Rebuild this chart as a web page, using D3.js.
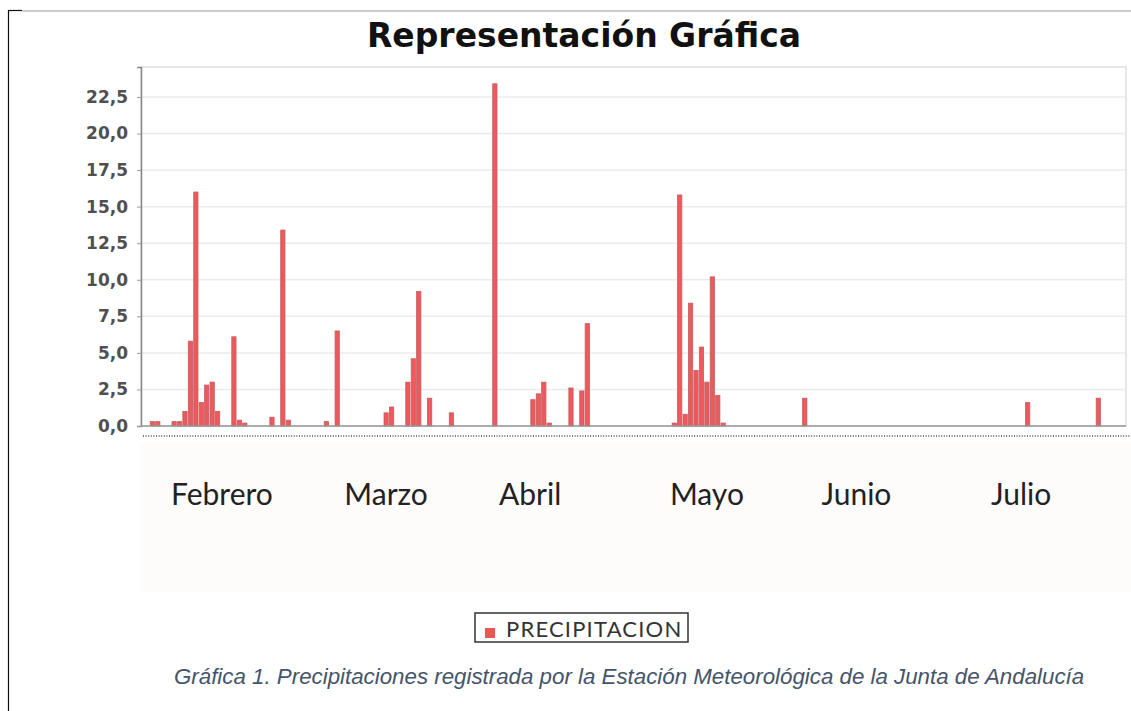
<!DOCTYPE html>
<html>
<head>
<meta charset="utf-8">
<script src="https://cdn.jsdelivr.net/npm/d3@7"></script>
<style>
  body { margin: 0; background: #fff; }
  svg { display: block; }
</style>
</head>
<body>
<svg width="1131" height="711"></svg>
<script>
// Data: daily rain (mm), only the days with a visible bar
const numDays = 178;
const rainDay = [0, 1, 4, 5, 6, 7, 8, 9, 10, 11, 12, 15, 16, 17, 22, 24, 25, 32, 34, 43, 44,
                 47, 48, 49, 51, 55, 63, 70, 71, 72, 73, 77, 79, 80,
                 96, 97, 98, 99, 100, 101, 102, 103, 104, 105, 120, 161, 174];
const rainMm = [0.3, 0.3, 0.3, 0.3, 1.0, 5.8, 16.0, 1.6, 2.8, 3.0, 1.0, 6.1, 0.4, 0.2, 0.6, 13.4, 0.4, 0.3, 6.5, 0.9, 1.3,
                3.0, 4.6, 9.2, 1.9, 0.9, 23.4, 1.8, 2.2, 3.0, 0.2, 2.6, 2.4, 7.0,
                0.2, 15.8, 0.8, 8.4, 3.8, 5.4, 3.0, 10.2, 2.1, 0.2, 1.9, 1.6, 1.9];
const yTicks = [0, 2.5, 5, 7.5, 10, 12.5, 15, 17.5, 20, 22.5];
const monthNames = ["Febrero", "Marzo", "Abril", "Mayo", "Junio", "Julio"];
const monthAnchorDay = [12.8, 43, 69.5, 102, 129.5, 159.8];
const seriesName = "PRECIPITACION";
const titleText = "Representación Gráfica";
const captionText = "Gráfica 1. Precipitaciones registrada por la Estación Meteorológica de la Junta de Andalucía";

// full daily series (days without rain are 0)
const series = d3.range(numDays).map(i => ({day: i, value: 0}));
rainDay.forEach((d, i) => { series[d].value = rainMm[i]; });

const svg = d3.select("svg");

// plot box
const plot = {left: 141, right: 1126, top: 67, bottom: 426};

const x = d3.scaleBand()
    .domain(d3.range(numDays))
    .range([plot.left, plot.right])
    .paddingInner(0.22)
    .paddingOuter(1.7);

const y = d3.scaleLinear()
    .domain([0, 24.55])
    .range([plot.bottom, plot.top]);

const dayCenter = d3.scaleLinear()
    .domain([0, numDays - 1])
    .range([x(0) + x.bandwidth() / 2, x(numDays - 1) + x.bandwidth() / 2]);

// outer frame of the document page
svg.append("line").attr("x1", 8.5).attr("x2", 8.5).attr("y1", 10).attr("y2", 711)
    .attr("stroke", "#111").attr("stroke-width", 1.2);
svg.append("line").attr("x1", 8).attr("x2", 22).attr("y1", 10.5).attr("y2", 10.5)
    .attr("stroke", "#111").attr("stroke-width", 1.2);
svg.append("line").attr("x1", 22).attr("x2", 1131).attr("y1", 11).attr("y2", 11)
    .attr("stroke", "#9a9a9a").attr("stroke-width", 1.2);

// very faint pink band behind month names
svg.append("rect")
    .attr("x", 140).attr("y", 442).attr("width", 991).attr("height", 150)
    .attr("fill", "#fefbfb");

// title
svg.append("text")
    .attr("x", 584).attr("y", 47)
    .attr("text-anchor", "middle")
    .style("font-family", "'DejaVu Sans', sans-serif")
    .style("font-weight", "bold")
    .style("font-size", "33px")
    .attr("fill", "#111")
    .text(titleText);

// plot background + grid
svg.append("rect")
    .attr("x", plot.left).attr("y", plot.top)
    .attr("width", plot.right - plot.left).attr("height", plot.bottom - plot.top)
    .attr("fill", "#fff")
    .attr("stroke", "#cfcfcf");

svg.append("g")
    .selectAll("line")
    .data(yTicks.filter(t => t > 0))
    .join("line")
    .attr("x1", plot.left).attr("x2", plot.right)
    .attr("y1", d => y(d)).attr("y2", d => y(d))
    .attr("stroke", "#ebebeb").attr("stroke-width", 1.5);

// y axis
const yAxis = svg.append("g")
    .attr("transform", `translate(${plot.left},0)`)
    .call(d3.axisLeft(y).tickValues(yTicks).tickSize(4).tickPadding(9)
        .tickFormat(d => d3.format(".1f")(d).replace(".", ",")));
yAxis.select(".domain").attr("stroke", "#888").attr("stroke-width", 1.5);
yAxis.selectAll(".tick line").attr("stroke", "#999");
yAxis.selectAll(".tick text")
    .style("font-family", "'DejaVu Sans', sans-serif")
    .style("font-weight", "bold")
    .style("font-size", "17px")
    .attr("fill", "#505050");

// bars
svg.append("g")
    .selectAll("rect")
    .data(series.filter(d => d.value > 0))
    .join("rect")
    .attr("x", d => x(d.day))
    .attr("width", x.bandwidth())
    .attr("y", d => y(d.value))
    .attr("height", d => y(0) - y(d.value))
    .attr("fill", "#ec5a5c")
    .attr("stroke", "#c65a62")
    .attr("stroke-width", 0.8);

// baseline
svg.append("line")
    .attr("x1", plot.left).attr("x2", plot.right)
    .attr("y1", plot.bottom).attr("y2", plot.bottom)
    .attr("stroke", "#999").attr("stroke-width", 1.5);

// crowded category labels render as a dotted strip
svg.append("line")
    .attr("x1", 143).attr("x2", 1131)
    .attr("y1", 436).attr("y2", 436)
    .attr("stroke", "#777").attr("stroke-width", 2)
    .attr("stroke-dasharray", "1,1.6");

// month names
svg.append("g")
    .selectAll("text")
    .data(monthNames)
    .join("text")
    .attr("x", (d, i) => dayCenter(monthAnchorDay[i]))
    .attr("y", 505)
    .attr("text-anchor", "middle")
    .style("font-family", "Lato, sans-serif")
    .style("font-size", "30px")
    .attr("fill", "#222")
    .text(d => d);

// legend
const legend = svg.append("g").attr("transform", "translate(475,613)");
legend.append("rect")
    .attr("width", 213).attr("height", 29)
    .attr("fill", "#fff").attr("stroke", "#333").attr("stroke-width", 1.5);
legend.append("rect")
    .attr("x", 10).attr("y", 15).attr("width", 10).attr("height", 10)
    .attr("fill", "#e8584f");
legend.append("text")
    .attr("x", 31).attr("y", 24)
    .style("font-family", "Lato, sans-serif")
    .style("font-size", "22px")
    .style("letter-spacing", "1.2px")
    .attr("fill", "#333")
    .text(seriesName);

// caption
svg.append("text")
    .attr("x", 174).attr("y", 684)
    .style("font-family", "'Liberation Sans', Arial, sans-serif")
    .style("font-style", "italic")
    .style("font-size", "22.3px")
    .attr("fill", "#44546a")
    .text(captionText);
</script>
</body>
</html>
